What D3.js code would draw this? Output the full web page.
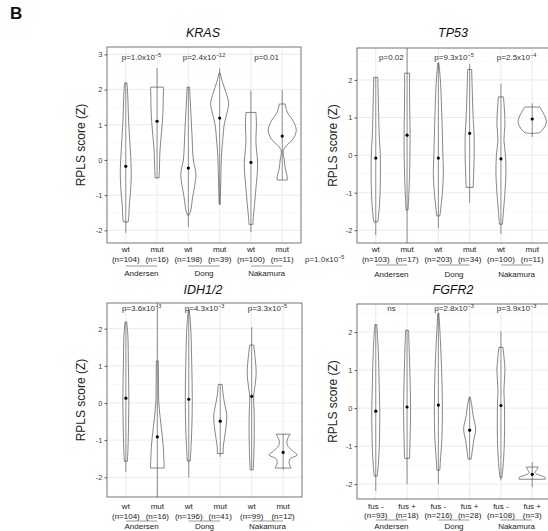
<!DOCTYPE html>
<html>
<head>
<meta charset="utf-8">
<script src="https://cdn.jsdelivr.net/npm/d3@7"></script>
<style>
  body { margin: 0; background: #fff; }
  svg { display: block; font-family: "Liberation Sans", Arial, sans-serif; }
</style>
</head>
<body>
<svg id="chart" width="548" height="531"></svg>
<script>
// ------------- DATA ------------- //
var genes = ["KRAS", "TP53", "IDH1/2", "FGFR2"];
var studies = ["Andersen", "Dong", "Nakamura"];
var yTicks = [[3, 2, 1, 0, -1, -2], [2, 1, 0, -1, -2], [2, 1, 0, -1, -2], [2, 1, 0, -1, -2]];
var groupLabels = [
  ["wt", "mut", "wt", "mut", "wt", "mut"],
  ["wt", "mut", "wt", "mut", "wt", "mut"],
  ["wt", "mut", "wt", "mut", "wt", "mut"],
  ["fus -", "fus +", "fus -", "fus +", "fus -", "fus +"]
];
var nCounts = [
  [104, 16, 198, 39, 100, 11],
  [103, 17, 203, 34, 100, 11],
  [104, 16, 196, 41, 99, 12],
  [93, 18, 216, 28, 108, 3]
];
var pLabels = [
  ["p=1.0x10^-5", "p=2.4x10^-12", "p=0.01"],
  ["p=0.02", "p=9.3x10^-5", "p=2.5x10^-4"],
  ["p=3.6x10^-3", "p=4.3x10^-3", "p=3.3x10^-5"],
  ["ns", "p=2.8x10^-3", "p=3.9x10^-3"]
];
var strayLabel = "p=1.0x10^-5";

// means and whisker ranges (Z)
var means = [
  [-0.18, 1.1, -0.23, 1.19, -0.07, 0.68],
  [-0.08, 0.53, -0.08, 0.58, -0.1, 0.96],
  [0.13, -0.91, 0.1, -0.49, 0.18, -1.33],
  [-0.08, 0.03, 0.08, -0.58, 0.07, -1.74]
];
var whiskHi = [
  [2.19, 2.61, 2.07, 2.6, 1.97, 1.99],
  [2.07, 2.9, 2.45, 2.42, 1.9, 1.38],
  [2.18, 2.8, 2.5, 0.5, 2.04, -0.84],
  [2.2, 2.05, 2.5, 0.29, 2.02, -1.42]
];
var whiskLo = [
  [-2.07, -0.51, -1.9, -1.26, -2.05, -0.57],
  [-2.13, -2.4, -1.95, -1.27, -2.1, 0.48],
  [-1.86, -2.6, -2.0, -1.45, -1.8, -1.8],
  [-2.18, -2.0, -2.0, -1.34, -1.9, -2.08]
];

// violin outlines: [Z value, relative density]
var krasDens = [
  [[2.19, 1.2], [1.8, 2], [1.0, 3], [0.3, 4.5], [-0.3, 5.5], [-0.8, 5], [-1.3, 3.5], [-1.6, 3], [-1.76, 2.5]],
  [[2.07, 6.5], [1.7, 6.2], [1.3, 5.8], [0.85, 4.7], [0.3, 3], [-0.3, 2.3], [-0.51, 2]],
  [[2.07, 1.2], [1.5, 2.2], [0.8, 3.5], [0, 5], [-0.37, 7.5], [-0.7, 6.5], [-1.05, 4.3], [-1.42, 2.5], [-1.56, 1]],
  [[2.47, 0.5], [2.2, 3], [1.9, 6.5], [1.6, 9], [1.3, 7], [1.0, 4.5], [0.6, 3.2], [0.2, 2], [-0.5, 1.2], [-1.0, 0.8], [-1.26, 0.5]],
  [[1.35, 5], [1.0, 5.5], [0.5, 5], [0, 6.5], [-0.3, 6.5], [-0.8, 5], [-1.3, 3.5], [-1.6, 2.5], [-1.83, 2]],
  [[1.59, 3], [1.36, 5], [1.1, 11], [0.85, 14], [0.6, 11], [0.4, 4], [0.26, 1], [0.0, 2], [-0.23, 3], [-0.48, 5], [-0.57, 5]]
];
var tp53Dens = [
  [[2.07, 2], [1.5, 2.5], [0.5, 3.5], [0, 4.5], [-0.8, 4.5], [-1.4, 3.5], [-1.78, 2]],
  [[2.18, 2.5], [1.5, 2.5], [0.5, 3], [-0.5, 2.5], [-1.2, 1.5], [-1.46, 1]],
  [[2.45, 0.5], [2.0, 2], [1.0, 3.5], [0, 4.5], [-0.5, 5], [-1.0, 4], [-1.4, 2.5], [-1.62, 1.5]],
  [[2.28, 2], [1.8, 2.5], [1.0, 3.5], [0.5, 4.5], [0, 4.5], [-0.5, 4], [-0.86, 3.5]],
  [[1.55, 2.5], [1.2, 3.5], [0.8, 4], [0.4, 3], [0, 4.5], [-0.5, 5], [-1.0, 4], [-1.5, 2.5], [-1.84, 1.5]],
  [[1.28, 7.5], [1.01, 13], [0.85, 14], [0.61, 8], [0.58, 2]]
];
var idhDens = [
  [[2.18, 0.8], [1.8, 2], [1.0, 2.5], [0.13, 3], [-0.8, 2.5], [-1.3, 2], [-1.57, 1.5]],
  [[1.13, 1], [0.5, 1.2], [0, 1.5], [-0.3, 2.5], [-0.55, 3.5], [-0.9, 5], [-1.2, 6], [-1.5, 6.5], [-1.75, 7]],
  [[2.5, 0.5], [2.0, 2], [1.0, 3], [0.1, 3.5], [-0.7, 3], [-1.3, 2], [-1.56, 1.5]],
  [[0.5, 2], [0.2, 3], [-0.1, 5], [-0.32, 6.5], [-0.6, 6], [-0.9, 4.5], [-1.2, 3], [-1.36, 3]],
  [[1.56, 2], [1.2, 3.5], [0.8, 4.5], [0.4, 3], [0.18, 2], [-0.3, 2.5], [-1.0, 2.5], [-1.5, 2], [-1.8, 1.5]],
  [[-0.84, 7], [-1.0, 4], [-1.15, 4.5], [-1.3, 10], [-1.4, 14], [-1.5, 7], [-1.62, 6], [-1.75, 8]]
];
var fgfrDens = [
  [[2.2, 1], [1.5, 2.5], [0.5, 3.5], [-0.08, 4], [-1.0, 3.5], [-1.5, 2.5], [-1.79, 1.5]],
  [[2.05, 1.5], [1.2, 2.5], [0.03, 3.5], [-0.8, 3], [-1.32, 2.5]],
  [[2.5, 0.5], [1.8, 2], [0.8, 3.5], [0, 4], [-0.8, 3.5], [-1.4, 2], [-1.63, 1.5]],
  [[0.29, 0.5], [0.1, 2], [-0.2, 3.5], [-0.55, 6], [-0.85, 4], [-1.15, 2.5], [-1.34, 1.5]],
  [[1.6, 2], [1.0, 4], [0.5, 3], [0.07, 3.5], [-0.8, 3.5], [-1.4, 2.5], [-1.82, 1]],
  [[-1.55, 6], [-1.62, 4.5], [-1.7, 3], [-1.78, 9], [-1.82, 13], [-1.87, 13]]
];
var densities = [krasDens, tp53Dens, idhDens, fgfrDens];

// ------------- LAYOUT ------------- //
var layout = [
  {x0: 107, x1: 301, y0: 47, y1: 243, dom: [-2.36, 3.21], tx: 203, ty: 33, ylab: 81, pY: 57, r1: 249, r2: 259, line: 266, r3: 273},
  {x0: 357, x1: 551, y0: 48, y1: 243, dom: [-2.34, 2.85], tx: 453, ty: 33, ylab: 333, pY: 57, r1: 249, r2: 259, line: 265, r3: 274},
  {x0: 107, x1: 302, y0: 303, y1: 497, dom: [-2.53, 2.69], tx: 203, ty: 290, ylab: 81, pY: 308, r1: 506, r2: 516, line: 521, r3: 526},
  {x0: 357, x1: 551, y0: 304, y1: 499, dom: [-2.39, 2.74], tx: 453, ty: 290, ylab: 333, pY: 308, r1: 506, r2: 515, line: 520, r3: 526}
];

var svg = d3.select("#chart");
var wScale = d3.scaleLinear().domain([0, 14]).range([0, 14]);

svg.append("text").attr("x", 10).attr("y", 19)
  .attr("font-size", 17).attr("font-weight", "bold").attr("fill", "#111").text("B");

// label with optional superscript: "p=1.0x10^-5"
function pText(sel, str) {
  var parts = str.split("^");
  sel.append("tspan").text(parts[0]);
  if (parts[1]) {
    sel.append("tspan").attr("font-size", 5.5).attr("dy", -3).text(parts[1].replace("-", "\u2212"));
  }
}

genes.forEach(function(gene, p) {
  var L = layout[p];
  var g = svg.append("g");
  var idx = d3.range(6);
  var x = d3.scalePoint().domain(idx).range([L.x0, L.x1]).padding(0.6);
  var y = d3.scaleLinear().domain(L.dom).range([L.y1, L.y0]);

  var clipId = "clip" + p;
  svg.append("clipPath").attr("id", clipId).append("rect")
    .attr("x", L.x0).attr("y", L.y0).attr("width", L.x1 - L.x0).attr("height", L.y1 - L.y0);

  // grid
  var minor = d3.range(Math.ceil(L.dom[0] * 2) / 2, L.dom[1], 0.5).filter(function(v) { return v % 1 !== 0; });
  g.selectAll(".minor").data(minor).enter().append("line")
    .attr("x1", L.x0).attr("x2", L.x1).attr("y1", y).attr("y2", y)
    .attr("stroke", "#f0f0f0").attr("stroke-width", 0.5);
  g.selectAll(".major").data(yTicks[p]).enter().append("line")
    .attr("x1", L.x0).attr("x2", L.x1).attr("y1", y).attr("y2", y)
    .attr("stroke", "#e6e6e6").attr("stroke-width", 0.8);
  g.selectAll(".vgrid").data(idx).enter().append("line")
    .attr("x1", x).attr("x2", x).attr("y1", L.y0).attr("y2", L.y1)
    .attr("stroke", "#e6e6e6").attr("stroke-width", 0.8);

  // violins
  var plot = g.append("g").attr("clip-path", "url(#" + clipId + ")");
  var area = d3.area().curve(d3.curveCatmullRom)
    .y(function(d) { return y(d[0]); });
  idx.forEach(function(i) {
    var cx = x(i);
    plot.append("path")
      .attr("d", area.x0(function(d) { return cx - wScale(d[1]); })
                     .x1(function(d) { return cx + wScale(d[1]); })(densities[p][i]))
      .attr("fill", "white").attr("fill-opacity", 0.6)
      .attr("stroke", "#444").attr("stroke-width", 0.65);
    plot.append("line")
      .attr("x1", cx).attr("x2", cx)
      .attr("y1", y(whiskHi[p][i])).attr("y2", y(whiskLo[p][i]))
      .attr("stroke", "#444").attr("stroke-width", 0.6);
    plot.append("circle").attr("cx", cx).attr("cy", y(means[p][i])).attr("r", 1.6).attr("fill", "#000");
  });

  // border
  g.append("rect").attr("x", L.x0).attr("y", L.y0)
    .attr("width", L.x1 - L.x0).attr("height", L.y1 - L.y0)
    .attr("fill", "none").attr("stroke", "#666").attr("stroke-width", 0.9);

  // y axis
  var yAxis = d3.axisLeft(y).tickValues(yTicks[p]).tickSize(2.5).tickPadding(2)
    .tickFormat(function(d) { return String(d); });
  var ax = g.append("g").attr("transform", "translate(" + L.x0 + ",0)").call(yAxis);
  ax.select(".domain").remove();
  ax.selectAll("line").attr("stroke", "#555");
  ax.selectAll("text").attr("font-size", 7.5).attr("fill", "#444")
    .attr("font-family", "Liberation Sans, Arial, sans-serif");

  g.append("text")
    .attr("transform", "translate(" + L.ylab + "," + ((L.y0 + L.y1) / 2) + ") rotate(-90)")
    .attr("text-anchor", "middle").attr("dy", "0.35em")
    .attr("font-size", 12).attr("fill", "#222").text("RPLS score (Z)");

  // title
  g.append("text").attr("x", L.tx).attr("y", L.ty).attr("dy", "0.35em")
    .attr("text-anchor", "middle").attr("font-size", 12.5).attr("font-style", "italic")
    .attr("fill", "#111").text(gene);

  // p values, study names
  studies.forEach(function(s, k) {
    var mid = (x(2 * k) + x(2 * k + 1)) / 2;
    var t = g.append("text").attr("x", mid).attr("y", L.pY).attr("dy", "0.35em")
      .attr("text-anchor", "middle").attr("font-size", 8).attr("fill", "#333");
    pText(t, pLabels[p][k]);

    g.append("line").attr("x1", x(2 * k)).attr("x2", x(2 * k + 1))
      .attr("y1", L.line).attr("y2", L.line).attr("stroke", "#555").attr("stroke-width", 0.6);
    g.append("text").attr("x", mid).attr("y", L.r3).attr("dy", "0.35em")
      .attr("text-anchor", "middle").attr("font-size", 8).attr("fill", "#222").text(s);
  });

  // group labels
  idx.forEach(function(i) {
    g.append("text").attr("x", x(i)).attr("y", L.r1).attr("dy", "0.35em")
      .attr("text-anchor", "middle").attr("font-size", 8).attr("fill", "#222").text(groupLabels[p][i]);
    g.append("text").attr("x", x(i)).attr("y", L.r2).attr("dy", "0.35em")
      .attr("text-anchor", "middle").attr("font-size", 8).attr("fill", "#222").text("(n=" + nCounts[p][i] + ")");
  });
});

var stray = svg.append("text").attr("x", 305).attr("y", 259).attr("dy", "0.35em")
  .attr("font-size", 8).attr("fill", "#333");
pText(stray, strayLabel);
</script>
</body>
</html>
